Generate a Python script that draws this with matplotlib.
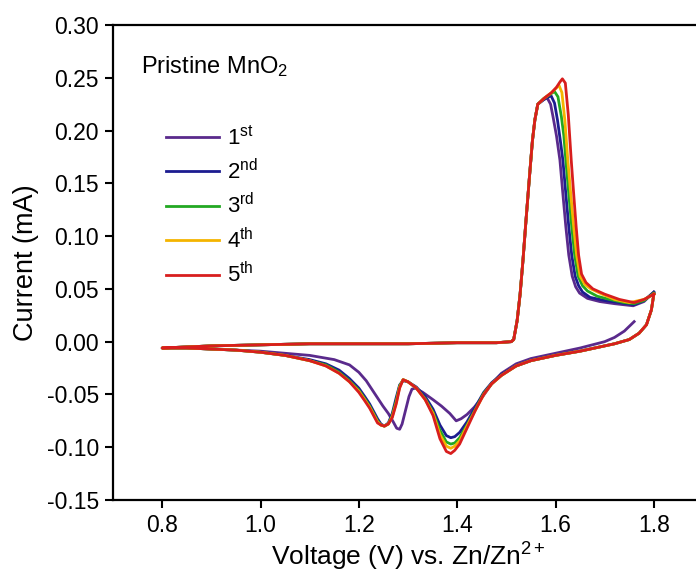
import matplotlib
matplotlib.use("Agg")
import matplotlib.pyplot as plt

plt.rcParams['font.family'] = ['Liberation Sans', 'DejaVu Sans']
plt.rcParams['mathtext.fontset'] = 'custom'
plt.rcParams['mathtext.rm'] = 'Liberation Sans'
plt.rcParams['mathtext.it'] = 'Liberation Sans:italic'

# ---------------- data ----------------
labels = ["1$^{\\mathrm{st}}$", "2$^{\\mathrm{nd}}$", "3$^{\\mathrm{rd}}$",
          "4$^{\\mathrm{th}}$", "5$^{\\mathrm{th}}$"]
colors = ["#5a2a8c", "#1c1c90", "#22a822", "#f4b400", "#d81e1e"]

# forward (anodic) sweep shared low-potential part, 0.8 V -> onset
fwd_base_v = [0.800, 0.850, 0.900, 1.000, 1.100, 1.200, 1.300, 1.400, 1.480, 1.510,
              1.515, 1.522, 1.528, 1.534, 1.540, 1.547, 1.553, 1.558, 1.564]
fwd_base_i = [-0.006, -0.005, -0.004, -0.003, -0.002, -0.002, -0.002, -0.001, -0.001, 0.000,
              0.002, 0.020, 0.045, 0.078, 0.115, 0.156, 0.190, 0.210, 0.225]

# cycle 1
c1_rev_v = [1.760, 1.740, 1.720, 1.700, 1.650, 1.600, 1.550, 1.520, 1.490, 1.470,
            1.452, 1.435, 1.420, 1.408, 1.398, 1.385, 1.368, 1.351, 1.330, 1.315,
            1.308, 1.302, 1.295, 1.288, 1.283, 1.277, 1.270, 1.260, 1.249, 1.232,
            1.215, 1.200, 1.181, 1.150, 1.100, 1.050, 1.000, 0.950, 0.900, 0.850, 0.800]
c1_rev_i = [0.019, 0.010, 0.004, 0.000, -0.006, -0.011, -0.016, -0.021, -0.030, -0.040,
            -0.052, -0.062, -0.069, -0.073, -0.075, -0.068, -0.061, -0.055, -0.048, -0.044,
            -0.045, -0.052, -0.065, -0.078, -0.083, -0.082, -0.076, -0.068, -0.061, -0.049,
            -0.037, -0.029, -0.022, -0.017, -0.013, -0.011, -0.009, -0.008, -0.007, -0.006, -0.006]
c1_fwd_v = [1.575, 1.583, 1.590, 1.595, 1.602, 1.609, 1.615, 1.621, 1.627, 1.634,
            1.641, 1.649, 1.665, 1.690, 1.720, 1.758, 1.780, 1.800]
c1_fwd_i = [0.229, 0.231, 0.225, 0.213, 0.195, 0.172, 0.140, 0.109, 0.082, 0.062,
            0.052, 0.046, 0.041, 0.038, 0.036, 0.034, 0.038, 0.047]

# reverse sweep shared high-potential part, 1.8 V -> 1.52 V (cycles 2-5)
rev_top_v = [1.800, 1.795, 1.785, 1.770, 1.750, 1.720, 1.700, 1.650, 1.600, 1.550, 1.520]
rev_top_i = [0.045, 0.030, 0.016, 0.008, 0.002, -0.002, -0.004, -0.009, -0.013, -0.018, -0.023]

# cathodic region voltages for cycles 2-5
cat_v = [1.490, 1.470, 1.454, 1.437, 1.420, 1.405, 1.395, 1.387, 1.378, 1.365,
         1.351, 1.335, 1.317, 1.300, 1.290, 1.283, 1.276, 1.268, 1.260, 1.252,
         1.245, 1.238, 1.230, 1.222, 1.212, 1.200, 1.181, 1.160, 1.133, 1.100,
         1.050, 1.000, 0.950, 0.900, 0.850, 0.800]
c2_cat_i = [-0.031, -0.039, -0.048, -0.062, -0.076, -0.086, -0.090, -0.091, -0.089, -0.079,
            -0.064, -0.052, -0.043, -0.038, -0.037, -0.041, -0.053, -0.068, -0.077, -0.080,
            -0.078, -0.073, -0.066, -0.059, -0.052, -0.044, -0.035, -0.027, -0.021, -0.017,
            -0.013, -0.010, -0.008, -0.007, -0.006, -0.006]
c3_cat_i = [-0.032, -0.040, -0.049, -0.064, -0.079, -0.091, -0.096, -0.097, -0.095, -0.084,
            -0.067, -0.054, -0.044, -0.038, -0.036, -0.042, -0.056, -0.070, -0.078, -0.080,
            -0.079, -0.075, -0.068, -0.061, -0.054, -0.046, -0.037, -0.029, -0.022, -0.018,
            -0.013, -0.010, -0.008, -0.007, -0.006, -0.006]
c4_cat_i = [-0.032, -0.040, -0.050, -0.065, -0.080, -0.094, -0.099, -0.101, -0.099, -0.088,
            -0.068, -0.055, -0.044, -0.038, -0.036, -0.043, -0.058, -0.071, -0.078, -0.080,
            -0.079, -0.076, -0.069, -0.062, -0.055, -0.047, -0.038, -0.030, -0.023, -0.018,
            -0.013, -0.010, -0.008, -0.007, -0.006, -0.006]
c5_cat_i = [-0.032, -0.040, -0.050, -0.065, -0.082, -0.097, -0.103, -0.106, -0.104, -0.092,
            -0.070, -0.055, -0.044, -0.038, -0.036, -0.044, -0.059, -0.072, -0.078, -0.080,
            -0.079, -0.077, -0.070, -0.063, -0.056, -0.048, -0.038, -0.030, -0.023, -0.018,
            -0.013, -0.010, -0.008, -0.007, -0.006, -0.006]

# anodic peak region for cycles 2-5
c2_fwd_v = [1.578, 1.591, 1.598, 1.604, 1.610, 1.615, 1.621, 1.627, 1.633, 1.640,
            1.647, 1.655, 1.670, 1.700, 1.730, 1.760, 1.780, 1.800]
c2_fwd_i = [0.230, 0.233, 0.226, 0.210, 0.190, 0.172, 0.140, 0.109, 0.082, 0.062,
            0.053, 0.047, 0.042, 0.039, 0.037, 0.035, 0.039, 0.047]
c3_fwd_v = [1.575, 1.588, 1.598, 1.605, 1.612, 1.617, 1.621, 1.627, 1.633, 1.639,
            1.646, 1.655, 1.665, 1.685, 1.710, 1.740, 1.760, 1.780, 1.800]
c3_fwd_i = [0.230, 0.234, 0.237, 0.232, 0.213, 0.195, 0.172, 0.140, 0.109, 0.082,
            0.062, 0.053, 0.048, 0.043, 0.040, 0.037, 0.036, 0.039, 0.046]
c4_fwd_v = [1.578, 1.592, 1.601, 1.607, 1.613, 1.619, 1.625, 1.631, 1.637, 1.643,
            1.650, 1.660, 1.672, 1.695, 1.720, 1.750, 1.780, 1.800]
c4_fwd_i = [0.231, 0.236, 0.240, 0.243, 0.236, 0.210, 0.172, 0.140, 0.109, 0.082,
            0.062, 0.054, 0.050, 0.045, 0.040, 0.037, 0.040, 0.045]
c5_fwd_v = [1.578, 1.592, 1.602, 1.609, 1.614, 1.620, 1.626, 1.632, 1.637, 1.642,
            1.647, 1.653, 1.662, 1.676, 1.700, 1.730, 1.760, 1.780, 1.800]
c5_fwd_i = [0.231, 0.236, 0.241, 0.246, 0.249, 0.245, 0.215, 0.172, 0.140, 0.109,
            0.082, 0.064, 0.056, 0.050, 0.045, 0.040, 0.037, 0.040, 0.045]

cycles = [
    (c1_rev_v + fwd_base_v + c1_fwd_v, c1_rev_i + fwd_base_i + c1_fwd_i),
    (rev_top_v + cat_v + fwd_base_v + c2_fwd_v, rev_top_i + c2_cat_i + fwd_base_i + c2_fwd_i),
    (rev_top_v + cat_v + fwd_base_v + c3_fwd_v, rev_top_i + c3_cat_i + fwd_base_i + c3_fwd_i),
    (rev_top_v + cat_v + fwd_base_v + c4_fwd_v, rev_top_i + c4_cat_i + fwd_base_i + c4_fwd_i),
    (rev_top_v + cat_v + fwd_base_v + c5_fwd_v, rev_top_i + c5_cat_i + fwd_base_i + c5_fwd_i),
]

x_ticks = [0.8, 1.0, 1.2, 1.4, 1.6, 1.8]
y_ticks = [-0.15, -0.10, -0.05, 0.00, 0.05, 0.10, 0.15, 0.20, 0.25, 0.30]

# ---------------- figure ----------------
W, H = 696, 581
fig = plt.figure(figsize=(W / 100, H / 100), dpi=100)
ax = fig.add_axes([113 / W, 81 / H, 590 / W, 475 / H])

for (v, i), c, lab in zip(cycles, colors, labels):
    ax.plot(v, i, color=c, lw=2.0, label=lab, solid_joinstyle='round')

ax.set_xlim(0.7, 1.9)
ax.set_ylim(-0.15, 0.30)
ax.set_xticks(x_ticks)
ax.set_xticklabels([f"{t:.1f}" for t in x_ticks])
ax.set_yticks(y_ticks)
ax.set_yticklabels([f"{t:.2f}" for t in y_ticks])
ax.tick_params(direction='out', length=6, width=1.5, labelsize=16.5, pad=4)
for s in ax.spines.values():
    s.set_linewidth(1.6)
ax.spines['right'].set_visible(False)

ax.set_xlabel("Voltage (V) vs. Zn/Zn$^{2+}$", fontsize=19, labelpad=3)
ax.set_ylabel("Current (mA)", fontsize=19.5, labelpad=6)

ax.text(141 / W, (H - 67) / H, "Pristine MnO$_2$", transform=fig.transFigure,
        fontsize=17, ha='left', va='center')

leg = ax.legend(loc='upper left', bbox_to_anchor=(150 / W, (H - 110) / H),
                bbox_transform=fig.transFigure, frameon=False, fontsize=16,
                handlelength=2.4, handletextpad=0.35, labelspacing=0.42,
                borderpad=0.2)
for l in leg.get_lines():
    l.set_linewidth(2.0)

fig.savefig("out.png", dpi=100)
